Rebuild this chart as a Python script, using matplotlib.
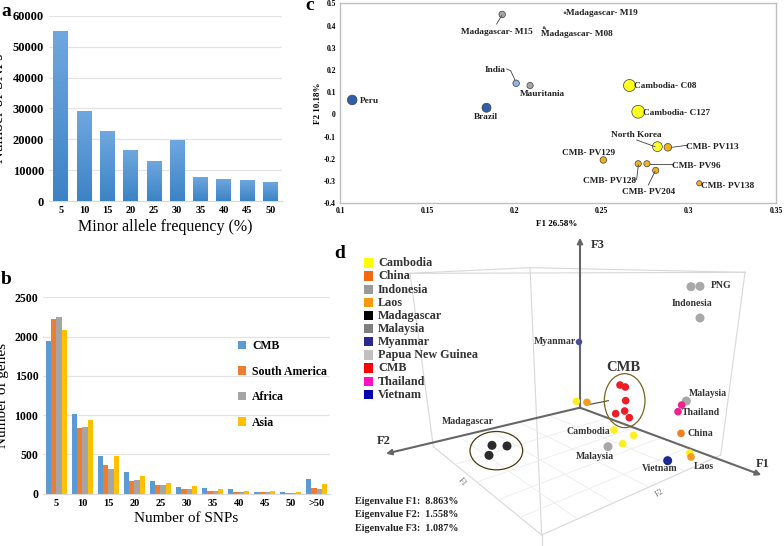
import numpy as np
import matplotlib
matplotlib.use("Agg")
import matplotlib.pyplot as plt
from matplotlib.patches import Ellipse, Rectangle

plt.rcParams['font.family'] = ['Liberation Serif', 'DejaVu Serif']
plt.rcParams['font.weight'] = 'bold'

W, H = 784, 546

# ---------- panel a
maf_labels = ['5', '10', '15', '20', '25', '30', '35', '40', '45', '50']
maf_counts = [55200, 29200, 22700, 16600, 13000, 19900, 7800, 7200, 6900, 6400]

# ---------- panel b
snp_labels = ['5', '10', '15', '20', '25', '30', '35', '40', '45', '50', '>50']
genes_cmb = [1950, 1020, 475, 270, 165, 90, 75, 65, 25, 20, 185]
genes_sa = [2230, 840, 365, 160, 110, 55, 35, 25, 20, 10, 75]
genes_africa = [2250, 850, 310, 175, 115, 65, 30, 25, 25, 10, 60]
genes_asia = [2085, 940, 480, 225, 140, 95, 65, 35, 30, 25, 125]

# ---------- panel c
c_names = ['Peru', 'Brazil', 'India', 'Mauritania', 'Madagascar- M15', 'Madagascar- M19',
           'Madagascar- M08', 'Cambodia- C08', 'Cambodia- C127', 'North Korea', 'CMB- PV113',
           'CMB- PV129', 'CMB- PV128', 'CMB- PV96', 'CMB- PV204', 'CMB- PV138']
c_f1 = [.107, .184, .201, .209, .193, .229, .217, .266, .271, .282, .288, .251, .271, .276, .281, .306]
c_f2 = [.065, .03, .14, .13, .45, .457, .39, .13, .012, -.145, -.148, -.205, -.222, -.222, -.252, -.31]
c_size = [48, 42, 22, 20, 22, 2, 2, 75, 85, 50, 30, 22, 20, 20, 20, 14]
c_color = ['#2f5fa8', '#2f5fa8', '#8db4e2', '#a6a6a6', '#a6a6a6', '#808080', '#808080', '#ffff20',
           '#ffff20', '#ffff30', '#f0b020', '#f0b020', '#f0b020', '#f0b020', '#f0b020', '#f0b020']
c_label_x = [360, 486, 495, 542, 497, 602, 577, 665, 677, 636, 712, 589, 610, 696, 649, 728]
c_label_y = [101, 117, 70, 94, 32, 13, 34, 86, 113, 135, 147, 153, 181, 166, 192, 186]
c_label_ha = ['left'] + ['center'] * 15
c_leaders = [[(530, 72), (545, 47)], [(560, 207), (572, 212), (585, 240)], [(950, 420), (1005, 440)],
             [(1055, 442), (1100, 436)], [(990, 492), (1060, 492)],
             [(942, 541), (950, 538), (955, 495)], [(985, 555), (1005, 515)], [(680, 95), (676, 85)]]

# ---------- panel d (projected positions)
legend_names = ['Cambodia', 'China', 'Indonesia', 'Laos', 'Madagascar', 'Malaysia', 'Myanmar',
                'Papua New Guinea', 'CMB', 'Thailand', 'Vietnam']
legend_colors = ['#ffff00', '#f26a10', '#9a9a9a', '#f79a10', '#000000', '#7f7f7f', '#2a2a8a',
                 '#c0c0c0', '#ff0000', '#ff10c0', '#0000b0']
d_points = {
    '#2b2b2b': [(486, 661), (531, 663), (477, 691)],
    '#ee1c25': [(870, 480), (886, 486), (887, 527), (857, 566), (884, 558), (898, 578)],
    '#ffee20': [(739, 529), (852, 615), (911, 631), (878, 656), (1079, 684)],
    '#f39a20': [(771, 532), (1083, 696)],
    '#a8a8a8': [(1083, 185), (1110, 184), (1110, 279), (1069, 528), (834, 665)],
    '#f0208c': [(1055, 540), (1044, 560)],
    '#ee7f22': [(1053, 625)],
    '#1a2a90': [(1013, 707)],
    '#4a4f96': [(747, 351)],
}
d_labels = ['PNG', 'Indonesia', 'Myanmar', 'Malaysia', 'Thailand', 'China', 'Madagascar',
            'Cambodia', 'Malaysia', 'Vietnam', 'Laos']
d_label_x = [1172, 1085, 674, 1134, 1113, 1110, 412, 774, 796, 988, 1121]
d_label_y = [182, 235, 350, 507, 562, 626, 591, 619, 695, 731, 724]
eigen_lines = ['Eigenvalue F1:  8.863%', 'Eigenvalue F2:  1.558%', 'Eigenvalue F3:  1.087%']

fig = plt.figure(figsize=(W / 100, H / 100), dpi=100)


def rect(x0, y0, x1, y1):
    return [x0 / W, 1 - y1 / H, (x1 - x0) / W, (y1 - y0) / H]


def style_bar_axes(ax):
    for s in ax.spines.values():
        s.set_visible(False)
    ax.spines['bottom'].set_visible(True)
    ax.spines['bottom'].set_color('#d9d9d9')
    ax.yaxis.grid(True, color='#e4e4e4', lw=0.9)
    ax.set_axisbelow(True)
    ax.tick_params(length=0)


# a
ax = fig.add_axes(rect(49, 15.7, 282, 201.3))
bars = ax.bar(np.arange(10), maf_counts, width=0.63, color='#5b9bd5')
grad = np.linspace(0, 1, 64)[:, None]
cmap = matplotlib.colors.LinearSegmentedColormap.from_list('b', ['#6fa8df', '#3c83c6'])
for b in bars:
    im = ax.imshow(grad, cmap=cmap, aspect='auto', zorder=3,
                   extent=(b.get_x(), b.get_x() + b.get_width(), 0, b.get_height()))
    im.set_clip_path(b)
ax.set_xlim(-0.5, 9.5)
ax.set_ylim(0, 60000)
ax.set_xticks(np.arange(10), maf_labels, fontsize=7.5)
ax.set_yticks(np.arange(0, 60001, 10000))
ax.tick_params(axis='y', labelsize=9)
ax.set_xlabel('Minor allele frequency (%)', fontsize=11.5, labelpad=3)
ax.set_ylabel('Number of SNPs', fontsize=11.5, labelpad=4)
style_bar_axes(ax)

# b
ax = fig.add_axes(rect(43.3, 297.3, 329.7, 493.7))
x = np.arange(11)
w = 0.2
for i, (vals, col, name) in enumerate([(genes_cmb, '#5b9bd5', 'CMB'), (genes_sa, '#ed7d31', 'South America'),
                                       (genes_africa, '#a5a5a5', 'Africa'), (genes_asia, '#ffc000', 'Asia')]):
    ax.bar(x + (i - 1.5) * w, vals, width=w, color=col, label=name)
ax.set_xlim(-0.5, 10.5)
ax.set_ylim(0, 2500)
ax.set_xticks(x, snp_labels, fontsize=7.5)
ax.set_yticks(np.arange(0, 2501, 500))
ax.tick_params(axis='y', labelsize=8.5)
ax.set_xlabel('Number of SNPs', fontsize=11, labelpad=3)
ax.set_ylabel('Number of genes', fontsize=11, labelpad=4)
style_bar_axes(ax)
ax.legend(loc='upper left', bbox_to_anchor=(238 / W, 1 - 340 / H), bbox_transform=fig.transFigure,
          frameon=False, fontsize=8.5, handlelength=0.7, handleheight=0.7, handletextpad=0.5,
          labelspacing=1.15, borderpad=0, borderaxespad=0)

# c
ax = fig.add_axes(rect(340, 3.3, 776, 203.3))
ax.scatter(c_f1, c_f2, s=c_size, c=c_color, edgecolors='#404040', linewidths=0.5, zorder=3)
ax.set_xlim(0.1, 0.35)
ax.set_ylim(-0.4, 0.5)
ax.set_xticks([0.1, 0.15, 0.2, 0.25, 0.3, 0.35], ['0.1', '0.15', '0.2', '0.25', '0.3', '0.35'], fontsize=5.5)
ax.set_yticks(np.arange(-0.4, 0.51, 0.1),
              ['-0.4', '-0.3', '-0.2', '-0.1', '0', '0.1', '0.2', '0.3', '0.4', '0.5'], fontsize=5.5)
ax.tick_params(length=0, pad=3)
for s in ax.spines.values():
    s.set_color('#bfbfbf')
    s.set_linewidth(1.0)

# overlay in pixel units for free labels
ov = fig.add_axes([0, 0, 1, 1], facecolor='none')
ov.set_xlim(0, W)
ov.set_ylim(H, 0)
ov.axis('off')
for n, lx, ly, ha in zip(c_names, c_label_x, c_label_y, c_label_ha):
    ov.text(lx, ly, n, fontsize=6.7, ha=ha, va='center', color='#222222')
for pts in c_leaders:
    p = np.array(pts, float)
    ov.plot(320 + p[:, 0] / 3, p[:, 1] / 3, color='#404040', lw=0.6)
ov.text(557, 224, 'F1 26.58%', fontsize=6.5, ha='center', va='center')
ov.text(317.7, 103, 'F2 10.18%', fontsize=6.5, ha='center', va='center', rotation=90)
for letter, lx, ly in [('a', 1, 11), ('b', 1, 280), ('c', 305, 6), ('d', 334, 254)]:
    ov.text(lx, ly, letter, fontsize=14, ha='left', va='center')

# d, drawn in a zoom-unit frame
ad = fig.add_axes(rect(330, 225, 784, 546), facecolor='none')
ad.set_xlim(0, 1362)
ad.set_ylim(963, 0)
ad.axis('off')
box_col = '#d8d8d8'
box = [[(240, 145), (600, 128), (1245, 142)], [(240, 145), (1245, 142)], [(240, 145), (310, 665)],
       [(1245, 142), (1172, 690)], [(600, 128), (635, 930)], [(310, 665), (635, 930), (1172, 690)],
       [(635, 930), (635, 960)], [(750, 145), (750, 550)]]
for seg in box:
    p = np.array(seg, float)
    ad.plot(p[:, 0], p[:, 1], color=box_col, lw=0.8, zorder=1)
# floor grid
L, F, R, B = [np.array(v, float) for v in [(310, 665), (635, 930), (1172, 690), (750, 550)]]
for t in np.linspace(0, 1, 6)[1:-1]:
    a, b = L + (F - L) * t, B + (R - B) * t
    ad.plot([a[0], b[0]], [a[1], b[1]], color='#ececec', lw=0.6, zorder=1)
    a, b = F + (R - F) * t, L + (B - L) * t
    ad.plot([a[0], b[0]], [a[1], b[1]], color='#ececec', lw=0.6, zorder=1)
for start, end in [((750, 550), (750, 38)), ((750, 548), (168, 686)), ((750, 548), (1294, 750))]:
    ad.annotate('', xy=end, xytext=start, zorder=2,
                arrowprops=dict(arrowstyle='-|>', color='#666666', lw=1.5, shrinkA=0, shrinkB=0, mutation_scale=8))
ad.plot([770, 835], [540, 527], color='#444444', lw=0.8, zorder=2)
ad.add_patch(Ellipse((884, 527), 122, 162, fc='none', ec='#7a6420', lw=0.9, zorder=3))
ad.add_patch(Ellipse((499, 677), 158, 115, fc='none', ec='#4a3a10', lw=0.9, zorder=3))
for col, pts in d_points.items():
    p = np.array(pts, float)
    size = 42 if col in ('#a8a8a8', '#2b2b2b', '#1a2a90') else 30
    if col == '#4a4f96':
        size = 22
    ad.scatter(p[:, 0], p[:, 1], s=size, c=col, edgecolors='none', zorder=4)
for i, (n, c) in enumerate(zip(legend_names, legend_colors)):
    y = 114 + 39.4 * i
    ad.add_patch(Rectangle((102, y - 14), 28, 28, fc=c, ec='none'))
    ad.text(144, y + 1, n, fontsize=8.7, va='center', ha='left', color='#333333')
for n, lx, ly in zip(d_labels, d_label_x, d_label_y):
    ad.text(lx, ly, n, fontsize=7, ha='center', va='center', color='#333333', zorder=5)
ad.text(880, 427, 'CMB', fontsize=10.5, ha='center', va='center', color='#333333')
ad.text(804, 60, 'F3', fontsize=9, ha='center', va='center', color='#333333')
ad.text(161, 647, 'F2', fontsize=9, ha='center', va='center', color='#333333')
ad.text(1298, 716, 'F1', fontsize=9, ha='center', va='center', color='#333333')
ad.text(396, 770, 'F1', fontsize=6, ha='center', va='center', color='#777777', rotation=-50, fontweight='normal')
ad.text(988, 803, 'F2', fontsize=6, ha='center', va='center', color='#777777', rotation=30, fontweight='normal')
for t, y in zip(eigen_lines, [829, 868, 911]):
    ad.text(74, y, t, fontsize=7.3, ha='left', va='center', color='#222222')

fig.savefig('out.png', dpi=100)
